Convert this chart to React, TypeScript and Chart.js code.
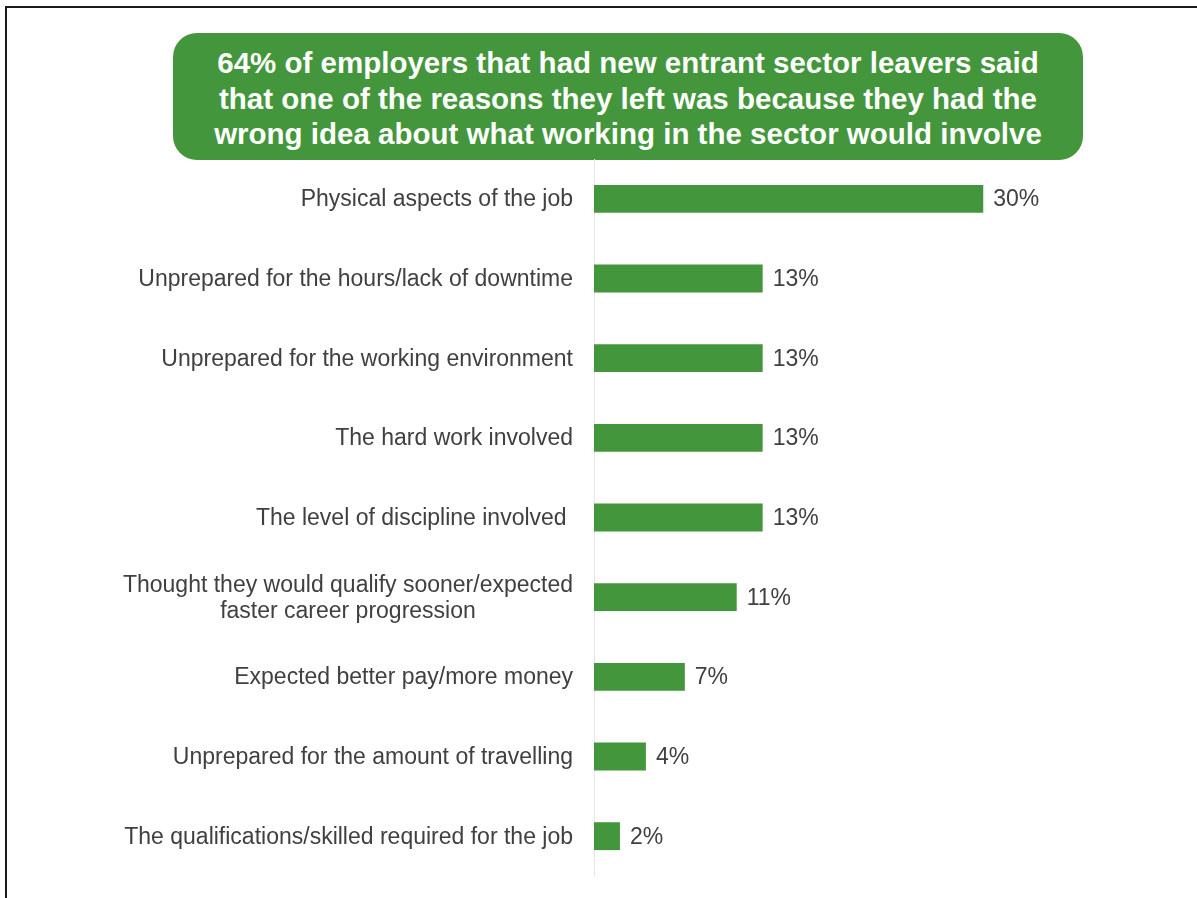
import React, { useEffect, useRef } from "react";
import { Chart, registerables } from "chart.js";

Chart.register(...registerables);

const headline: string[] = [
  "64% of employers that had new entrant sector leavers said",
  "that one of the reasons they left was because they had the",
  "wrong idea about what working in the sector would involve",
];

const reasons: (string | string[])[] = [
  "Physical aspects of the job",
  "Unprepared for the hours/lack of downtime",
  "Unprepared for the working environment",
  "The hard work involved",
  "The level of discipline involved ",
  ["Thought they would qualify sooner/expected", "faster career progression"],
  "Expected better pay/more money",
  "Unprepared for the amount of travelling",
  "The qualifications/skilled required for the job",
];

const shares: number[] = [30, 13, 13, 13, 13, 11, 7, 4, 2];

const GREEN = "#43963b";
const TEXT = "#404040";
const FONT = '"Liberation Sans", Arial, sans-serif';

// Category labels: block right-aligned to the axis, lines centred inside the block
const categoryLabels = {
  id: "categoryLabels",
  afterDatasetsDraw(chart: any) {
    const { ctx } = chart;
    const yScale = chart.scales.y;
    const right = yScale.right - 21;
    const lineH = 26;
    ctx.save();
    ctx.font = `23px ${FONT}`;
    ctx.fillStyle = TEXT;
    ctx.textBaseline = "middle";
    reasons.forEach((lab, i) => {
      const lines = Array.isArray(lab) ? lab : [lab];
      const y = yScale.getPixelForValue(i);
      const widths = lines.map((l) => ctx.measureText(l).width);
      const blockW = Math.max(...widths);
      const center = right - blockW / 2;
      ctx.textAlign = "center";
      lines.forEach((l, k) => {
        const ly = y + 1 + (k - (lines.length - 1) / 2) * lineH;
        ctx.fillText(l, center, ly);
      });
    });
    ctx.restore();
  },
};

// Percentage labels at the end of each bar
const valueLabels = {
  id: "valueLabels",
  afterDatasetsDraw(chart: any) {
    const { ctx } = chart;
    const meta = chart.getDatasetMeta(0);
    ctx.save();
    ctx.font = `23px ${FONT}`;
    ctx.fillStyle = TEXT;
    ctx.textAlign = "left";
    ctx.textBaseline = "middle";
    meta.data.forEach((bar: any, i: number) => {
      ctx.fillText(`${shares[i]}%`, bar.x + 10, bar.y + 1);
    });
    ctx.restore();
  },
};

export default function App() {
  const canvasRef = useRef<HTMLCanvasElement | null>(null);

  useEffect(() => {
    if (!canvasRef.current) return;
    const chart = new Chart(canvasRef.current, {
      type: "bar",
      data: {
        labels: reasons.map((r) => (Array.isArray(r) ? r.join(" ") : r)),
        datasets: [
          {
            data: shares,
            backgroundColor: GREEN,
            borderWidth: 0,
            barPercentage: 0.35,
            categoryPercentage: 1,
          },
        ],
      },
      options: {
        indexAxis: "y",
        animation: false,
        responsive: false,
        maintainAspectRatio: false,
        layout: { padding: { top: 4, bottom: 4, left: 0, right: 84 } },
        plugins: {
          legend: { display: false },
          tooltip: { enabled: false },
          title: { display: false },
        },
        scales: {
          x: {
            display: false,
            min: 0,
            max: 40,
          },
          y: {
            afterFit: (s: any) => {
              s.width = 594;
            },
            ticks: { display: false },
            grid: { display: false, drawTicks: false },
            border: { display: true, color: "#e6e6e6", width: 1 },
          },
        },
      },
      plugins: [categoryLabels, valueLabels],
    });
    return () => chart.destroy();
  }, []);

  return (
    <div
      style={{
        position: "absolute",
        left: 0,
        top: 0,
        width: 1197,
        height: 898,
        overflow: "hidden",
        background: "#fff",
        fontFamily: FONT,
      }}
    >
      <div
        style={{
          position: "absolute",
          left: 5,
          top: 6,
          width: 1220,
          height: 920,
          borderLeft: "2.5px solid #1a1a1a",
          borderTop: "2.5px solid #1a1a1a",
        }}
      />
      <div
        style={{
          position: "absolute",
          left: 173,
          top: 33,
          width: 910,
          height: 127,
          background: GREEN,
          borderRadius: 24,
          color: "#fff",
          fontWeight: "bold",
          fontSize: 29.5,
          lineHeight: "35.5px",
          textAlign: "center",
          display: "flex",
          flexDirection: "column",
          justifyContent: "center",
          paddingTop: 4,
          boxSizing: "border-box",
          whiteSpace: "nowrap",
        }}
      >
        {headline.map((l, i) => (
          <div key={i}>{l}</div>
        ))}
      </div>
      <canvas
        ref={canvasRef}
        width={1197}
        height={725}
        style={{ position: "absolute", left: 0, top: 155, width: 1197, height: 725 }}
      />
    </div>
  );
}
